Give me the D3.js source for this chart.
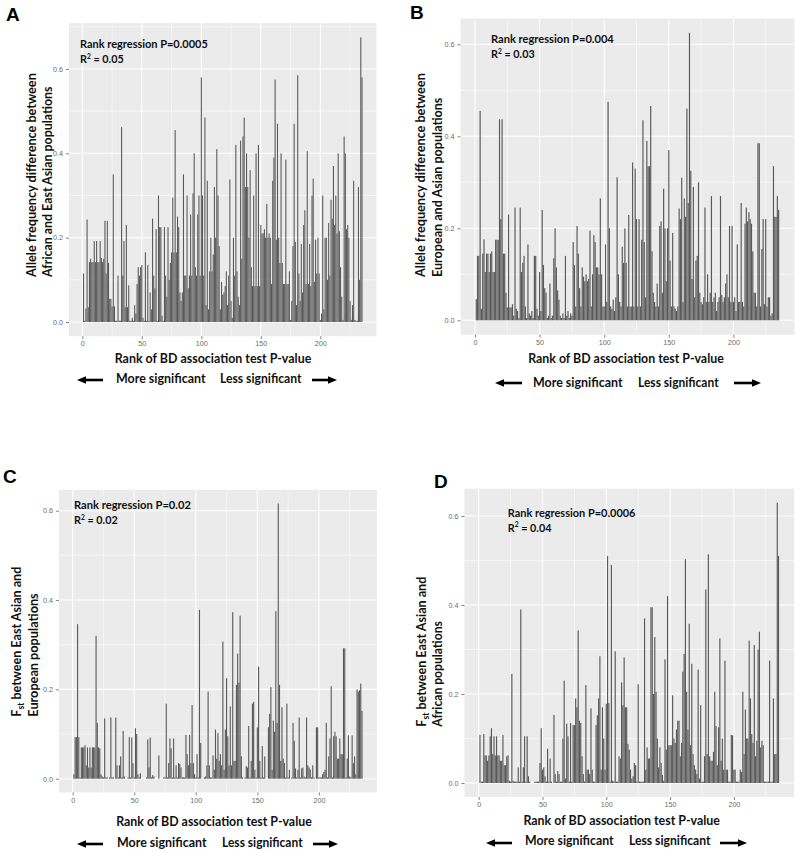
<!DOCTYPE html>
<html>
<head>
<meta charset="utf-8">
<script src="https://cdn.jsdelivr.net/npm/d3@7"></script>
<style>
  body { margin: 0; background: #fff; }
  svg { display: block; }
</style>
</head>
<body>
<div id="fig"></div>
<script>
// values, rank 1..235 (most to least significant)
const afrEasDiff = [
  0.115, 0.003, 0.032, 0.243, 0.035, 0.142, 0.15, 0.142, 0.142, 0.192,
  0.142, 0.192, 0.142, 0.142, 0.192, 0.152, 0.142, 0.15, 0.24, 0.115,
  0.24, 0.14, 0.055, 0.055, 0.037, 0.35, 0.037, 0.003, 0.003, 0.11,
  0.003, 0.003, 0.462, 0.11, 0.192, 0.035, 0.23, 0.035, 0.087, 0.003,
  0.003, 0.01, 0.003, 0.04, 0.02, 0.09, 0.13, 0.11, 0.13, 0.135,
  0.01, 0.003, 0.165, 0.003, 0.135, 0.003, 0.07, 0.03, 0.245, 0.11,
  0.08, 0.22, 0.003, 0.3, 0.225, 0.225, 0.015, 0.003, 0.225, 0.11,
  0.06, 0.225, 0.1, 0.14, 0.165, 0.295, 0.165, 0.455, 0.165, 0.25,
  0.225, 0.07, 0.05, 0.07, 0.35, 0.11, 0.11, 0.3, 0.08, 0.11,
  0.255, 0.11, 0.305, 0.4, 0.13, 0.11, 0.255, 0.3, 0.11, 0.58,
  0.3, 0.11, 0.485, 0.04, 0.335, 0.03, 0.12, 0.2, 0.12, 0.16,
  0.32, 0.2, 0.41, 0.3, 0.18, 0.03, 0.095, 0.065, 0.07, 0.085,
  0.12, 0.04, 0.11, 0.338, 0.05, 0.01, 0.2, 0.11, 0.42, 0.12,
  0.06, 0.04, 0.43, 0.15, 0.44, 0.485, 0.32, 0.4, 0.32, 0.2,
  0.36, 0.13, 0.085, 0.3, 0.085, 0.4, 0.085, 0.42, 0.085, 0.23,
  0.21, 0.21, 0.22, 0.2, 0.28, 0.2, 0.21, 0.2, 0.09, 0.335,
  0.39, 0.575, 0.195, 0.47, 0.2, 0.14, 0.4, 0.14, 0.09, 0.09,
  0.385, 0.09, 0.09, 0.12, 0.005, 0.05, 0.18, 0.47, 0.19, 0.04,
  0.585, 0.115, 0.05, 0.185, 0.07, 0.23, 0.265, 0.09, 0.405, 0.09,
  0.185, 0.085, 0.3, 0.34, 0.095, 0.195, 0.115, 0.2, 0.115, 0.005,
  0.02, 0.3, 0.03, 0.2, 0.2, 0.1, 0.235, 0.11, 0.29, 0.245,
  0.37, 0.23, 0.3, 0.21, 0.4, 0.215, 0.13, 0.06, 0.005, 0.44,
  0.4, 0.22, 0.23, 0.2, 0.05, 0.005, 0.04, 0.335, 0.005, 0.003,
  0.003, 0.32, 0.1, 0.675, 0.58
];
const eurAsnDiff = [
  0.046, 0.14, 0.14, 0.455, 0.025, 0.145, 0.176, 0.105, 0.145, 0.145,
  0.105, 0.145, 0.15, 0.105, 0.105, 0.175, 0.175, 0.175, 0.437, 0.22,
  0.437, 0.145, 0.145, 0.06, 0.028, 0.23, 0.028, 0.028, 0.035, 0.01,
  0.245, 0.025, 0.02, 0.005, 0.245, 0.105, 0.125, 0.14, 0.03, 0.005,
  0.165, 0.015, 0.01, 0.02, 0.005, 0.14, 0.14, 0.025, 0.01, 0.105,
  0.02, 0.24, 0.12, 0.07, 0.06, 0.005, 0.01, 0.08, 0.005, 0.01,
  0.135, 0.2, 0.115, 0.065, 0.045, 0.01, 0.005, 0.015, 0.005, 0.14,
  0.01, 0.02, 0.005, 0.015, 0.01, 0.17, 0.12, 0.03, 0.205, 0.145,
  0.07, 0.03, 0.115, 0.095, 0.085, 0.1, 0.085, 0.09, 0.195, 0.03,
  0.1, 0.185, 0.17, 0.115, 0.115, 0.1, 0.265, 0.1, 0.03, 0.03,
  0.165, 0.04, 0.475, 0.2, 0.03, 0.025, 0.045, 0.02, 0.05, 0.311,
  0.1, 0.04, 0.03, 0.16, 0.125, 0.2, 0.125, 0.03, 0.229, 0.03,
  0.03, 0.343, 0.03, 0.33, 0.22, 0.03, 0.22, 0.03, 0.175, 0.435,
  0.17, 0.05, 0.39, 0.335, 0.335, 0.466, 0.15, 0.06, 0.04, 0.03,
  0.08, 0.03, 0.205, 0.215, 0.06, 0.286, 0.2, 0.085, 0.2, 0.37,
  0.13, 0.03, 0.19, 0.03, 0.025, 0.02, 0.03, 0.243, 0.22, 0.31,
  0.04, 0.265, 0.225, 0.46, 0.255, 0.625, 0.325, 0.09, 0.29, 0.05,
  0.13, 0.14, 0.3, 0.06, 0.04, 0.035, 0.05, 0.245, 0.04, 0.1,
  0.04, 0.06, 0.27, 0.04, 0.05, 0.06, 0.02, 0.04, 0.05, 0.27,
  0.055, 0.04, 0.05, 0.08, 0.1, 0.05, 0.205, 0.04, 0.205, 0.04,
  0.05, 0.02, 0.165, 0.04, 0.04, 0.255, 0.04, 0.03, 0.21, 0.245,
  0.215, 0.235, 0.22, 0.21, 0.15, 0.06, 0.06, 0.03, 0.385, 0.385,
  0.03, 0.155, 0.22, 0.035, 0.22, 0.03, 0.05, 0.05, 0.01, 0.015,
  0.335, 0.225, 0.225, 0.27, 0.24
];
const fstEasEur = [
  0.01, 0.093, 0.093, 0.346, 0.093, 0.003, 0.07, 0.07, 0.07, 0.075,
  0.03, 0.07, 0.025, 0.07, 0.025, 0.07, 0.07, 0.07, 0.32, 0.125,
  0.07, 0.068, 0.01, 0.005, 0.003, 0.135, 0.003, 0.003, 0, 0.003,
  0.137, 0.003, 0.003, 0, 0.137, 0.03, 0.003, 0.03, 0.05, 0.003,
  0.107, 0.005, 0, 0, 0.003, 0.093, 0.003, 0.092, 0.035, 0.003,
  0.113, 0.1, 0.01, 0.003, 0.012, 0, 0, 0, 0, 0.003,
  0.088, 0.025, 0.092, 0.003, 0.008, 0.005, 0, 0, 0, 0.052,
  0, 0, 0, 0.003, 0.003, 0.168, 0.003, 0.035, 0.09, 0.068,
  0.003, 0.09, 0.003, 0.03, 0.003, 0.035, 0.033, 0.025, 0.003, 0.003,
  0.003, 0.098, 0.055, 0.03, 0.098, 0.035, 0.165, 0.035, 0.01, 0.003,
  0.055, 0.003, 0.378, 0.08, 0, 0, 0.003, 0.005, 0.03, 0.195,
  0.03, 0.003, 0.003, 0.052, 0.02, 0.11, 0.045, 0.102, 0.04, 0.055,
  0.03, 0.307, 0.02, 0.11, 0.225, 0.095, 0.03, 0.162, 0.03, 0.373,
  0.04, 0.04, 0.21, 0.28, 0.215, 0.365, 0.05, 0.003, 0, 0.003,
  0.028, 0.025, 0.118, 0.003, 0.04, 0.168, 0.172, 0.02, 0.003, 0.115,
  0.251, 0.04, 0.003, 0.073, 0.003, 0.05, 0, 0, 0.115, 0.145,
  0.205, 0.02, 0.13, 0.105, 0.375, 0.125, 0.616, 0.21, 0.04, 0.16,
  0.045, 0.035, 0.003, 0.168, 0.003, 0.02, 0, 0.003, 0.125, 0.085,
  0.023, 0.003, 0.02, 0.137, 0.003, 0.023, 0.025, 0.005, 0.003, 0.137,
  0.03, 0.025, 0.02, 0.003, 0.03, 0.003, 0, 0.115, 0.115, 0.003,
  0.003, 0.003, 0.01, 0.015, 0.02, 0.125, 0.003, 0.05, 0.09, 0.207,
  0.003, 0.095, 0.105, 0.095, 0.045, 0.045, 0.09, 0.055, 0.055, 0.292,
  0.292, 0.003, 0.045, 0.097, 0.005, 0.003, 0.097, 0.035, 0.05, 0.01,
  0.2, 0.195, 0.198, 0.213, 0.152
];
const fstEasAfr = [
  0.108, 0.003, 0.003, 0.11, 0.062, 0.062, 0.05, 0.062, 0.105, 0.123,
  0.065, 0.105, 0.062, 0.105, 0.062, 0.062, 0.05, 0.05, 0.108, 0.04,
  0.04, 0.06, 0.062, 0.005, 0.003, 0.245, 0.005, 0.003, 0.003, 0.003,
  0.035, 0.003, 0.39, 0.003, 0.035, 0.105, 0.003, 0.105, 0.015, 0.003,
  0, 0, 0, 0.003, 0.003, 0.003, 0.003, 0.045, 0.123, 0.03,
  0.035, 0.015, 0.003, 0.077, 0.003, 0.055, 0.003, 0, 0.153, 0.02,
  0.003, 0.027, 0.02, 0.003, 0.003, 0.1, 0.23, 0.01, 0.133, 0.105,
  0.003, 0.135, 0.003, 0.13, 0.13, 0.19, 0.17, 0.343, 0.14, 0.135,
  0.06, 0.02, 0.003, 0.22, 0.03, 0.03, 0.02, 0.168, 0.03, 0.003,
  0.003, 0.13, 0.152, 0.19, 0.285, 0.03, 0.17, 0.1, 0.03, 0.178,
  0.51, 0.18, 0.003, 0.49, 0.005, 0.003, 0.296, 0.003, 0.003, 0.06,
  0.055, 0.226, 0.175, 0.282, 0.17, 0.17, 0.088, 0.075, 0.03, 0.01,
  0.015, 0.045, 0.04, 0.003, 0.222, 0.003, 0.003, 0.003, 0.003, 0.37,
  0.03, 0.08, 0.055, 0.055, 0.395, 0.395, 0.2, 0.328, 0.205, 0.1,
  0.035, 0.08, 0.045, 0.018, 0.005, 0.278, 0.075, 0.42, 0.085, 0.085,
  0.085, 0.197, 0.1, 0.09, 0.12, 0.14, 0.14, 0.06, 0.09, 0.25,
  0.29, 0.503, 0.205, 0.12, 0.358, 0.085, 0.268, 0.065, 0.04, 0.03,
  0.02, 0.255, 0.01, 0.175, 0.003, 0.003, 0.06, 0.435, 0.065, 0.514,
  0.06, 0.05, 0.05, 0.07, 0.205, 0.128, 0.04, 0.125, 0.325, 0.05,
  0.1, 0.03, 0.275, 0.03, 0.03, 0.003, 0.003, 0.108, 0.107, 0.03,
  0.03, 0.003, 0.003, 0.003, 0.03, 0.025, 0.205, 0.065, 0.165, 0.1,
  0.1, 0.32, 0.19, 0.11, 0.09, 0.31, 0.06, 0.095, 0.3, 0.34,
  0.08, 0.095, 0.085, 0.003, 0.003, 0.003, 0.003, 0.275, 0.003, 0.003,
  0.19, 0.065, 0.065, 0.63, 0.51
];

const xTicks = [0, 50, 100, 150, 200];
const yTicks = [0, 0.2, 0.4, 0.6];
const panelLetters = ["A", "B", "C", "D"];
const pValues = ["0.0005", "0.004", "0.02", "0.0006"];
const r2Values = ["0.05", "0.03", "0.02", "0.04"];
// [main, subscript, rest] for the first line, plain second line
const yTitles = [
  [["Allele frequency difference between", "", ""], "African and East Asian populations"],
  [["Allele frequency difference between", "", ""], "European and Asian populations"],
  [["F", "st", " between East Asian and"], "European populations"],
  [["F", "st", " between East Asian and"], "African populations"]
];
const xTitle = "Rank of BD association  test P-value";
const arrowLabels = ["More significant", "Less significant"];

const series = [afrEasDiff, eurAsnDiff, fstEasEur, fstEasAfr];

// page layout of the four pasted panels (pixels)
const layout = [
  { bg: [69, 376.5], y0: 322, ky: 421.7, letter: [6, 21], note: [80, 48, 128],
    yt: [36, 52, 277, 205, 192], xt: [213, 363, 197], arr: [77, 103, 116, 206, 220, 302, 312, 337, 380, 383] },
  { bg: [460.5, 794.4], y0: 320.3, ky: 460, letter: [410, 19.3], note: [491, 43.3, 123],
    yt: [425, 442, 277, 205, 180], xt: [626, 363, 196], arr: [495, 522, 533, 623, 638, 719, 734, 761, 383, 387] },
  { bg: [58.9, 377], y0: 778.7, ky: 446.7, letter: [3, 483.3], note: [74, 509.3, 117],
    yt: [21, 38, 716.7, 150, 124], xt: [214, 826, 196], arr: [77, 103, 117, 207, 222, 303, 313, 338, 844, 846.7] },
  { bg: [464.4, 794.1], y0: 783, ky: 445, letter: [434, 488.3], note: [507.7, 516.7, 128],
    yt: [425.5, 442, 726.7, 150, 107], xt: [621.7, 825, 197], arr: [486, 512, 525, 614, 629, 711, 720, 747, 843, 845] }
];

const W = 796, H = 853;
const svg = d3.select("#fig").append("svg").attr("width", W).attr("height", H);
const TITLE_FONT = "Lato, 'Open Sans', sans-serif";

// text drawn at the origin, then moved / rotated and squeezed to the wanted width
function label(parent, x, y, rot, size, width, anchor) {
  const t = parent.append("text")
    .attr("font-family", TITLE_FONT).attr("font-weight", 700)
    .attr("font-size", size).attr("fill", "#111")
    .attr("text-anchor", anchor || "start");
  t.fit = function () {
    const len = t.node().getBBox().width;
    const sx = width ? width / len : 1;
    t.attr("transform", "translate(" + x + "," + y + ") rotate(" + rot + ") scale(" + sx.toFixed(4) + ",1)");
    return t;
  };
  return t;
}

function arrow(g, xFrom, xTo, y) {
  const dir = xTo > xFrom ? 1 : -1;
  g.append("line")
    .attr("x1", xFrom).attr("x2", xTo - dir * 6)
    .attr("y1", y).attr("y2", y)
    .attr("stroke", "#000").attr("stroke-width", 2.6);
  g.append("path")
    .attr("d", "M" + xTo + "," + y + "L" + (xTo - dir * 9) + "," + (y - 3.8) + "L" + (xTo - dir * 9) + "," + (y + 3.8) + "Z")
    .attr("fill", "#000");
}

series.forEach(function (vals, p) {
  const L = layout[p];
  const n = vals.length;
  const span = (n + 0.45) - 0.55;
  const xDom = [0.55 - 0.05 * span, n + 0.45 + 0.05 * span];
  const vmax = d3.max(vals);
  const yDom = [-0.05 * vmax, 1.05 * vmax];
  const x0 = L.bg[0], x1 = L.bg[1];
  const yBottom = L.y0 - yDom[0] * L.ky, yTop = L.y0 - yDom[1] * L.ky;

  const x = d3.scaleLinear().domain(xDom).range([x0, x1]);
  const y = d3.scaleLinear().domain(yDom).range([yBottom, yTop]);

  const g = svg.append("g");

  // panel background
  g.append("rect")
    .attr("x", x0).attr("y", yTop)
    .attr("width", x1 - x0).attr("height", yBottom - yTop)
    .attr("fill", "#EBEBEB");

  // minor grid (midpoints of major breaks, ggplot style)
  const xMinor = d3.range(-25, 275, 50).filter(v => v > xDom[0] && v < xDom[1]);
  const yMinor = d3.range(-0.1, 0.8, 0.2).filter(v => v > yDom[0] && v < yDom[1]);
  g.selectAll(".xmin").data(xMinor).enter().append("line")
    .attr("x1", d => x(d)).attr("x2", d => x(d))
    .attr("y1", yTop).attr("y2", yBottom)
    .attr("stroke", "#fff").attr("stroke-width", 0.55);
  g.selectAll(".ymin").data(yMinor).enter().append("line")
    .attr("x1", x0).attr("x2", x1)
    .attr("y1", d => y(d)).attr("y2", d => y(d))
    .attr("stroke", "#fff").attr("stroke-width", 0.55);
  g.selectAll(".xmaj").data(xTicks).enter().append("line")
    .attr("x1", d => x(d)).attr("x2", d => x(d))
    .attr("y1", yTop).attr("y2", yBottom)
    .attr("stroke", "#fff").attr("stroke-width", 1.1);
  g.selectAll(".ymaj").data(yTicks).enter().append("line")
    .attr("x1", x0).attr("x2", x1)
    .attr("y1", d => y(d)).attr("y2", d => y(d))
    .attr("stroke", "#fff").attr("stroke-width", 1.1);

  // bars
  g.selectAll(".bar").data(vals).enter().append("rect")
    .attr("x", (d, i) => x(i + 1 - 0.45))
    .attr("width", (d, i) => x(i + 1 + 0.45) - x(i + 1 - 0.45))
    .attr("y", d => y(d))
    .attr("height", d => y(0) - y(d))
    .attr("fill", "#595959");

  // axes (ticks + labels)
  const xAxis = d3.axisBottom(x).tickValues(xTicks).tickSize(3).tickPadding(2)
    .tickFormat(d3.format("d"));
  const yAxis = d3.axisLeft(y).tickValues(yTicks).tickSize(3).tickPadding(3)
    .tickFormat(d3.format(".1f"));
  const ax = g.append("g").attr("transform", "translate(0," + yBottom + ")").call(xAxis);
  const ay = g.append("g").attr("transform", "translate(" + x0 + ",0)").call(yAxis);
  [ax, ay].forEach(a => {
    a.select(".domain").remove();
    a.selectAll(".tick line").attr("stroke", "#333").attr("stroke-width", 0.6);
    a.selectAll(".tick text").attr("fill", "#6b6b6b").attr("font-size", 7.2)
      .attr("font-family", "'Liberation Sans', Arial, sans-serif");
  });

  // panel letter
  svg.append("text")
    .attr("x", L.letter[0]).attr("y", L.letter[1])
    .attr("font-family", "'Liberation Sans', Arial, sans-serif")
    .attr("font-weight", 700).attr("font-size", 19)
    .text(panelLetters[p]);

  // regression note
  const ns = 10.8;
  label(svg, L.note[0], L.note[1], 0, ns, L.note[2])
    .text("Rank regression P=" + pValues[p]).fit();
  const note2 = label(svg, L.note[0], L.note[1] + 15, 0, ns, 0);
  note2.append("tspan").text("R");
  note2.append("tspan").attr("font-size", ns * 0.62).attr("dy", -ns * 0.4).text("2");
  note2.append("tspan").attr("dy", ns * 0.4).text(" = " + r2Values[p]);
  note2.fit();

  // y title, two lines rotated, start-aligned at the bottom
  const ts = 12.6;
  const yl = yTitles[p][0];
  const t1 = label(svg, L.yt[0], L.yt[2], -90, ts, L.yt[3]);
  t1.append("tspan").text(yl[0]);
  if (yl[1]) {
    t1.append("tspan").attr("font-size", ts * 0.68).attr("dy", 3).text(yl[1]);
    t1.append("tspan").attr("dy", -3).text(yl[2]);
  }
  t1.fit();
  label(svg, L.yt[1], L.yt[2], -90, ts, L.yt[4]).text(yTitles[p][1]).fit();

  // x title
  label(svg, L.xt[0], L.xt[1], 0, 12.4, L.xt[2], "middle").text(xTitle).fit();

  // significance direction row
  const a = L.arr;
  const g2 = svg.append("g");
  arrow(g2, a[1], a[0], a[8]);
  arrow(g2, a[6], a[7], a[8]);
  label(g2, a[2], a[9], 0, 12.4, a[3] - a[2]).text(arrowLabels[0]).fit();
  label(g2, a[4], a[9], 0, 12.4, a[5] - a[4]).text(arrowLabels[1]).fit();
});
</script>
</body>
</html>
